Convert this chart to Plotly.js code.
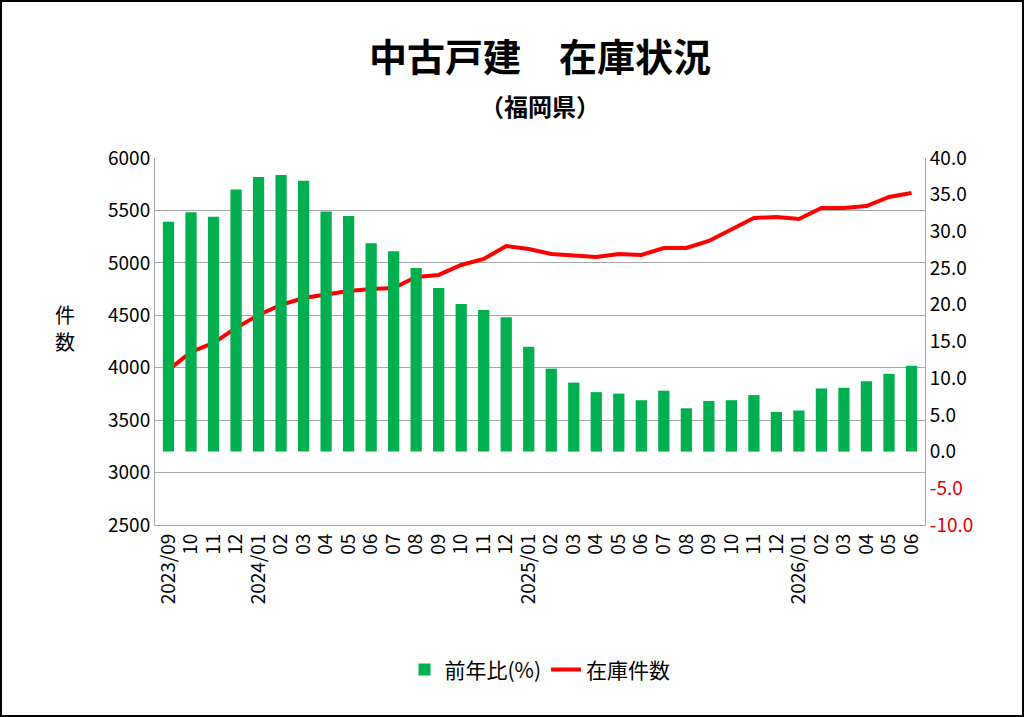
<!DOCTYPE html>
<html>
<head>
<meta charset="utf-8">
<script src="https://cdn.plot.ly/plotly-3.0.1.min.js"></script>
<style>
  html, body { margin: 0; padding: 0; background: #fff; }
  #plot { width: 1020px; height: 713px; border: 2px solid #000; }
</style>
</head>
<body>
<div id="plot"></div>
<script>
// months 2023/09 .. 2026/06
//
const months = ['2023/09','10','11','12','2024/01','02','03','04','05','06','07','08','09','10','11','12',
                '2025/01','02','03','04','05','06','07','08','09','10','11','12',
                '2026/01','02','03','04','05','06'];

// year-on-year ratio (%), right axis
//
const yoy = [31.3, 32.6, 32.0, 35.7, 37.4, 37.7, 36.9, 32.7, 32.1, 28.4, 27.3, 25.0, 22.3, 20.1, 19.3, 18.3,
             14.3, 11.3, 9.4, 8.1, 7.9, 7.0, 8.3, 5.9, 6.9, 7.0, 7.7, 5.4,
             5.6, 8.6, 8.7, 9.6, 10.6, 11.7];

// stock count, left axis
//
const stock = [3980, 4150, 4236, 4380, 4503, 4600, 4665, 4694, 4732, 4751, 4760, 4866, 4885, 4980, 5037, 5161,
               5132, 5085, 5075, 5056, 5085, 5075, 5142, 5142, 5209, 5323, 5428, 5437,
               5418, 5523, 5523, 5542, 5628, 5666];

const rightVals = [-10, -5, 0, 5, 10, 15, 20, 25, 30, 35, 40];
const rightText = rightVals.map(v => v < 0
  ? '<span style="color:#e00000">' + v.toFixed(1) + '</span>' : v.toFixed(1));

const idx = months.map((m, i) => i);
const font = 'Noto Sans CJK JP, Noto Sans, sans-serif';

const traces = [
  {
    x: idx, y: yoy, type: 'bar', name: '前年比(%)', yaxis: 'y2',
    marker: { color: '#00b050' }, width: 0.5
  },
  {
    x: idx, y: stock, type: 'scatter', mode: 'lines', name: '在庫件数',
    line: { color: '#ff0000', width: 4 }
  }
];

const layout = {
  width: 1020, height: 713,
  margin: { l: 153, r: 97, t: 156, b: 190 },
  paper_bgcolor: '#fff', plot_bgcolor: '#fff',
  font: { family: font, size: 19, color: '#000' },
  showlegend: true,
  legend: { orientation: 'h', x: 0.5, xanchor: 'center', y: -0.395, yanchor: 'middle',
            font: { size: 21 }, traceorder: 'normal' },
  xaxis: {
    tickvals: idx, ticktext: months, tickangle: -90, range: [-0.6, 33.6],
    showline: true, linecolor: '#a6a6a6', ticks: '', tickfont: { size: 19 }
  },
  yaxis: {
    range: [2500, 6000], dtick: 500, showgrid: true, gridcolor: '#a6a6a6',
    showline: true, linecolor: '#a6a6a6', zeroline: false, tickfont: { size: 19 }
  },
  yaxis2: {
    overlaying: 'y', side: 'right', range: [-10, 40],
    tickvals: rightVals, ticktext: rightText, showgrid: false, zeroline: false,
    showline: true, linecolor: '#a6a6a6', tickfont: { size: 19 }
  },
  annotations: [
    { text: '<b>中古戸建　在庫状況</b>', xref: 'paper', yref: 'paper', x: 0.5, y: 1, yanchor: 'middle',
      yshift: 104, showarrow: false, font: { size: 38 } },
    { text: '<b>（福岡県）</b>', xref: 'paper', yref: 'paper', x: 0.5, y: 1, yanchor: 'middle',
      yshift: 53, showarrow: false, font: { size: 24 } },
    { text: '件', xref: 'paper', yref: 'paper', x: 0, xshift: -102, y: 0.5, yanchor: 'middle',
      yshift: 27, showarrow: false, font: { size: 20 } },
    { text: '数', xref: 'paper', yref: 'paper', x: 0, xshift: -102, y: 0.5, yanchor: 'middle',
      yshift: 0, showarrow: false, font: { size: 20 } }
  ]
};

Plotly.newPlot('plot', traces, layout, { displayModeBar: false, staticPlot: true });
</script>
</body>
</html>
